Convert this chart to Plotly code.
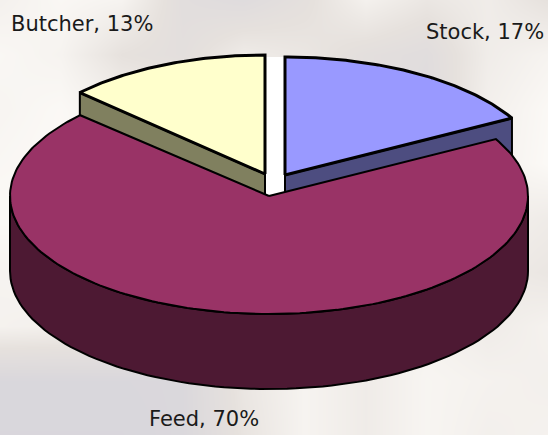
import math
import plotly.graph_objects as go

categories = ["Stock", "Feed", "Butcher"]
values = [17, 70, 13]
top_colors = ["#9999ff", "#993366", "#ffffcc"]
side_colors = ["#4d4d80", "#4d1933", "#80805f"]
centers_x = [285, 269, 265]
centers_y = [175, 196, 174]
radii_x = [259, 259, 254]
radii_y = [118, 118, 119]
label_x = [485, 204, 82]
label_y = [32, 419, 24]
DEPTH = 75

# soft backdrop tones (rows top to bottom)
backdrop = [
    [.80, .92, .85, .35, .25, .45, .80, .60, .72, .50],
    [.92, .85, .50, .40, .70, .60, .40, .30, .72, .85],
    [.88, .95, .80, .75, .80, .65, .40, .25, .78, .95],
    [.92, .97, .92, .80, .80, .70, .60, .45, .80, .97],
    [.97, .95, .92, .85, .80, .75, .70, .65, .80, .70],
    [.85, .90, .85, .80, .75, .70, .70, .75, .70, .60],
    [.82, .78, .82, .78, .70, .70, .78, .82, .70, .82],
    [.05, .05, .05, .08, .60, .85, .70, .88, .82, .78],
    [.02, .02, .02, .08, .55, .85, .70, .88, .78, .82],
]

fig = go.Figure()
fig.add_trace(go.Heatmap(
    z=backdrop, x0=0, dx=548 / 9, y0=0, dy=435 / 8, zsmooth="best",
    colorscale=[[0, "#d8d6dc"], [0.5, "#e6e1dd"], [1, "#fdfbf8"]],
    zmin=0, zmax=1, showscale=False, hoverinfo="skip"))

def ell(i, deg, dy=0):
    t = math.radians(deg)
    return centers_x[i] + radii_x[i] * math.sin(t), centers_y[i] - radii_y[i] * math.cos(t) + dy

def arc(i, a, b, dy=0, n=90):
    return [ell(i, a + (b - a) * k / n, dy) for k in range(n + 1)]

def poly(points, fill, width=2):
    xs = [p[0] for p in points] + [points[0][0]]
    ys = [p[1] for p in points] + [points[0][1]]
    fig.add_trace(go.Scatter(x=xs, y=ys, mode="lines", fill="toself", fillcolor=fill,
                             line=dict(color="black", width=width), hoverinfo="skip"))

# slice angles come from the values
angles = []
acc = 0
for v in values:
    angles.append((acc * 3.6, (acc + v) * 3.6))
    acc += v

# white gap between the exploded wedges
gap_left, gap_right = centers_x[2], centers_x[0]
gap_top = centers_y[0] - radii_y[0]
fig.add_trace(go.Scatter(x=[gap_left, gap_right, gap_right, gap_left, gap_left],
                         y=[gap_top, gap_top, centers_y[1], centers_y[1], gap_top],
                         mode="lines", fill="toself", fillcolor="white",
                         line=dict(width=0), hoverinfo="skip"))

# Stock: cut face and top
apex = (centers_x[0], centers_y[0])
a, b = angles[0]
e = ell(0, b)
poly([apex, e, (e[0], e[1] + DEPTH), (apex[0], apex[1] + DEPTH)], side_colors[0])
poly([apex] + arc(0, a, b), top_colors[0], 3)

# Butcher: cut face and top
apex = (centers_x[2], centers_y[2])
a, b = angles[2]
e = ell(2, a)
poly([apex, e, (e[0], e[1] + DEPTH), (apex[0], apex[1] + DEPTH)], side_colors[2])
poly([apex] + arc(2, a, b), top_colors[2], 3)

# Feed: front wall and top
apex = (centers_x[1], centers_y[1])
a, b = angles[1]
poly(arc(1, 90, 270) + arc(1, 270, 90, DEPTH), side_colors[1])
poly([apex] + arc(1, a, b, n=180), top_colors[1])

annotations = [
    dict(x=x, y=y, text=f"{c}, {v}%", showarrow=False, xanchor="center", yanchor="middle",
         font=dict(family="DejaVu Sans", size=21, color="#1a1a1a"))
    for c, v, x, y in zip(categories, values, label_x, label_y)
]

fig.update_layout(
    width=548, height=435, margin=dict(l=0, r=0, t=0, b=0), showlegend=False,
    paper_bgcolor="#f3efec", plot_bgcolor="#f3efec",
    xaxis=dict(range=[0, 548], visible=False, fixedrange=True),
    yaxis=dict(range=[435, 0], visible=False, fixedrange=True),
    annotations=annotations,
)
fig.write_html("out.html", post_script="document.body.style.margin='0';document.body.style.overflow='hidden';",
               config={"displayModeBar": False})
